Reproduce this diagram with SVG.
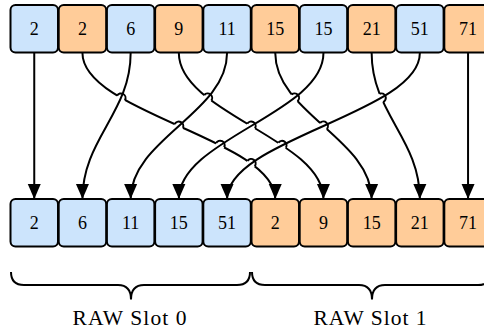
<svg xmlns="http://www.w3.org/2000/svg" width="484" height="334" viewBox="0 0 484 334">
<style>
.box{stroke:#000;stroke-width:2}
.b{fill:#cce4fc}
.o{fill:#ffcc99}
.t{font-family:"Liberation Serif","Times New Roman",serif;font-size:18px;text-anchor:middle;fill:#000}
.lbl{font-family:"Liberation Serif","Times New Roman",serif;font-size:21.5px;text-anchor:middle;fill:#000}
.ln{fill:none;stroke:#000;stroke-width:2;marker-end:url(#ah)}
.er{fill:none;stroke:#fff;stroke-width:4.5}
.hop{fill:none;stroke:#000;stroke-width:2}
.brace{fill:none;stroke:#000;stroke-width:2}
</style>
<defs>
<marker id="ah" markerUnits="userSpaceOnUse" viewBox="0 0 16 14" markerWidth="16" markerHeight="14" refX="15" refY="7" orient="auto">
<path d="M0,0.5 L15,7 L0,13.5 z" fill="#000"/>
</marker>
</defs>
<g id="top-row">
<g id="t0"><rect class="box b" x="10.5" y="5" width="47.5" height="47.5" rx="5"/><text class="t" x="34.25" y="34.5">2</text></g>
<g id="t1"><rect class="box o" x="58.7" y="5" width="47.5" height="47.5" rx="5"/><text class="t" x="82.45" y="34.5">2</text></g>
<g id="t2"><rect class="box b" x="106.9" y="5" width="47.5" height="47.5" rx="5"/><text class="t" x="130.65" y="34.5">6</text></g>
<g id="t3"><rect class="box o" x="155.1" y="5" width="47.5" height="47.5" rx="5"/><text class="t" x="178.85" y="34.5">9</text></g>
<g id="t4"><rect class="box b" x="203.3" y="5" width="47.5" height="47.5" rx="5"/><text class="t" x="227.05" y="34.5">11</text></g>
<g id="t5"><rect class="box o" x="251.5" y="5" width="47.5" height="47.5" rx="5"/><text class="t" x="275.25" y="34.5">15</text></g>
<g id="t6"><rect class="box b" x="299.7" y="5" width="47.5" height="47.5" rx="5"/><text class="t" x="323.45" y="34.5">15</text></g>
<g id="t7"><rect class="box o" x="347.9" y="5" width="47.5" height="47.5" rx="5"/><text class="t" x="371.65" y="34.5">21</text></g>
<g id="t8"><rect class="box b" x="396.1" y="5" width="47.5" height="47.5" rx="5"/><text class="t" x="419.85" y="34.5">51</text></g>
<g id="t9"><rect class="box o" x="444.3" y="5" width="47.5" height="47.5" rx="5"/><text class="t" x="468.05" y="34.5">71</text></g>
</g>
<g id="bottom-row">
<g id="b0"><rect class="box b" x="10.5" y="199" width="47.5" height="47.5" rx="5"/><text class="t" x="34.25" y="228.5">2</text></g>
<g id="b1"><rect class="box b" x="58.7" y="199" width="47.5" height="47.5" rx="5"/><text class="t" x="82.45" y="228.5">6</text></g>
<g id="b2"><rect class="box b" x="106.9" y="199" width="47.5" height="47.5" rx="5"/><text class="t" x="130.65" y="228.5">11</text></g>
<g id="b3"><rect class="box b" x="155.1" y="199" width="47.5" height="47.5" rx="5"/><text class="t" x="178.85" y="228.5">15</text></g>
<g id="b4"><rect class="box b" x="203.3" y="199" width="47.5" height="47.5" rx="5"/><text class="t" x="227.05" y="228.5">51</text></g>
<g id="b5"><rect class="box o" x="251.5" y="199" width="47.5" height="47.5" rx="5"/><text class="t" x="275.25" y="228.5">2</text></g>
<g id="b6"><rect class="box o" x="299.7" y="199" width="47.5" height="47.5" rx="5"/><text class="t" x="323.45" y="228.5">9</text></g>
<g id="b7"><rect class="box o" x="347.9" y="199" width="47.5" height="47.5" rx="5"/><text class="t" x="371.65" y="228.5">15</text></g>
<g id="b8"><rect class="box o" x="396.1" y="199" width="47.5" height="47.5" rx="5"/><text class="t" x="419.85" y="228.5">21</text></g>
<g id="b9"><rect class="box o" x="444.3" y="199" width="47.5" height="47.5" rx="5"/><text class="t" x="468.05" y="228.5">71</text></g>
</g>
<g id="connectors">
<path class="ln" d="M34.25,53 V199"/>
<path class="ln" d="M468.05,53 V199"/>
<path class="ln" d="M82.45,53 C82.45,113 275.25,139 275.25,199"/>
<path class="ln" d="M178.85,53 C178.85,113 323.45,139 323.45,199"/>
<path class="ln" d="M275.25,53 C275.25,113 371.65,139 371.65,199"/>
<path class="ln" d="M371.65,53 C371.65,113 419.85,139 419.85,199"/>
<path class="er" d="M117.12,95.63 L124.90,100.17 M174.74,124.17 L182.96,127.83 M216.14,143.16 L224.18,147.22 M247.51,160.81 L254.79,166.11 M204.22,95.14 L211.32,100.66 M247.28,123.70 L255.02,128.30 M278.41,142.68 L285.87,147.70 M291.60,94.48 L297.46,101.32 M320.09,123.00 L326.81,129.00 M379.52,93.76 L383.06,102.04"/>
<path class="ln" d="M130.65,53 C130.65,113 82.45,139 82.45,199"/>
<path class="ln" d="M227.05,53 C227.05,113 130.65,139 130.65,199"/>
<path class="ln" d="M323.45,53 C323.45,113 178.85,139 178.85,199"/>
<path class="ln" d="M419.85,53 C419.85,113 227.05,139 227.05,199"/>
<path class="hop" d="M117.12,95.63 A4.5,4.5 0 0 1 124.90,100.17 M174.74,124.17 A4.5,4.5 0 0 1 182.96,127.83 M216.14,143.16 A4.5,4.5 0 0 1 224.18,147.22 M247.51,160.81 A4.5,4.5 0 0 1 254.79,166.11 M204.22,95.14 A4.5,4.5 0 0 1 211.32,100.66 M247.28,123.70 A4.5,4.5 0 0 1 255.02,128.30 M278.41,142.68 A4.5,4.5 0 0 1 285.87,147.70 M291.60,94.48 A4.5,4.5 0 0 1 297.46,101.32 M320.09,123.00 A4.5,4.5 0 0 1 326.81,129.00 M379.52,93.76 A4.5,4.5 0 0 1 383.06,102.04"/>
</g>
<g id="slot0">
<path class="brace" d="M11,272 Q11,285 24,285 L118,285 Q131,285 131,299.5 Q131,285 144,285 L237,285 Q250,285 250,272"/>
<text class="lbl" x="129.5" y="324.5" textLength="114">RAW Slot 0</text>
</g>
<g id="slot1">
<path class="brace" d="M252,272 Q252,285 265,285 L359,285 Q372,285 372,299.5 Q372,285 385,285 L478,285 Q491,285 491,272"/>
<text class="lbl" x="370" y="324.5" textLength="113">RAW Slot 1</text>
</g>
</svg>
